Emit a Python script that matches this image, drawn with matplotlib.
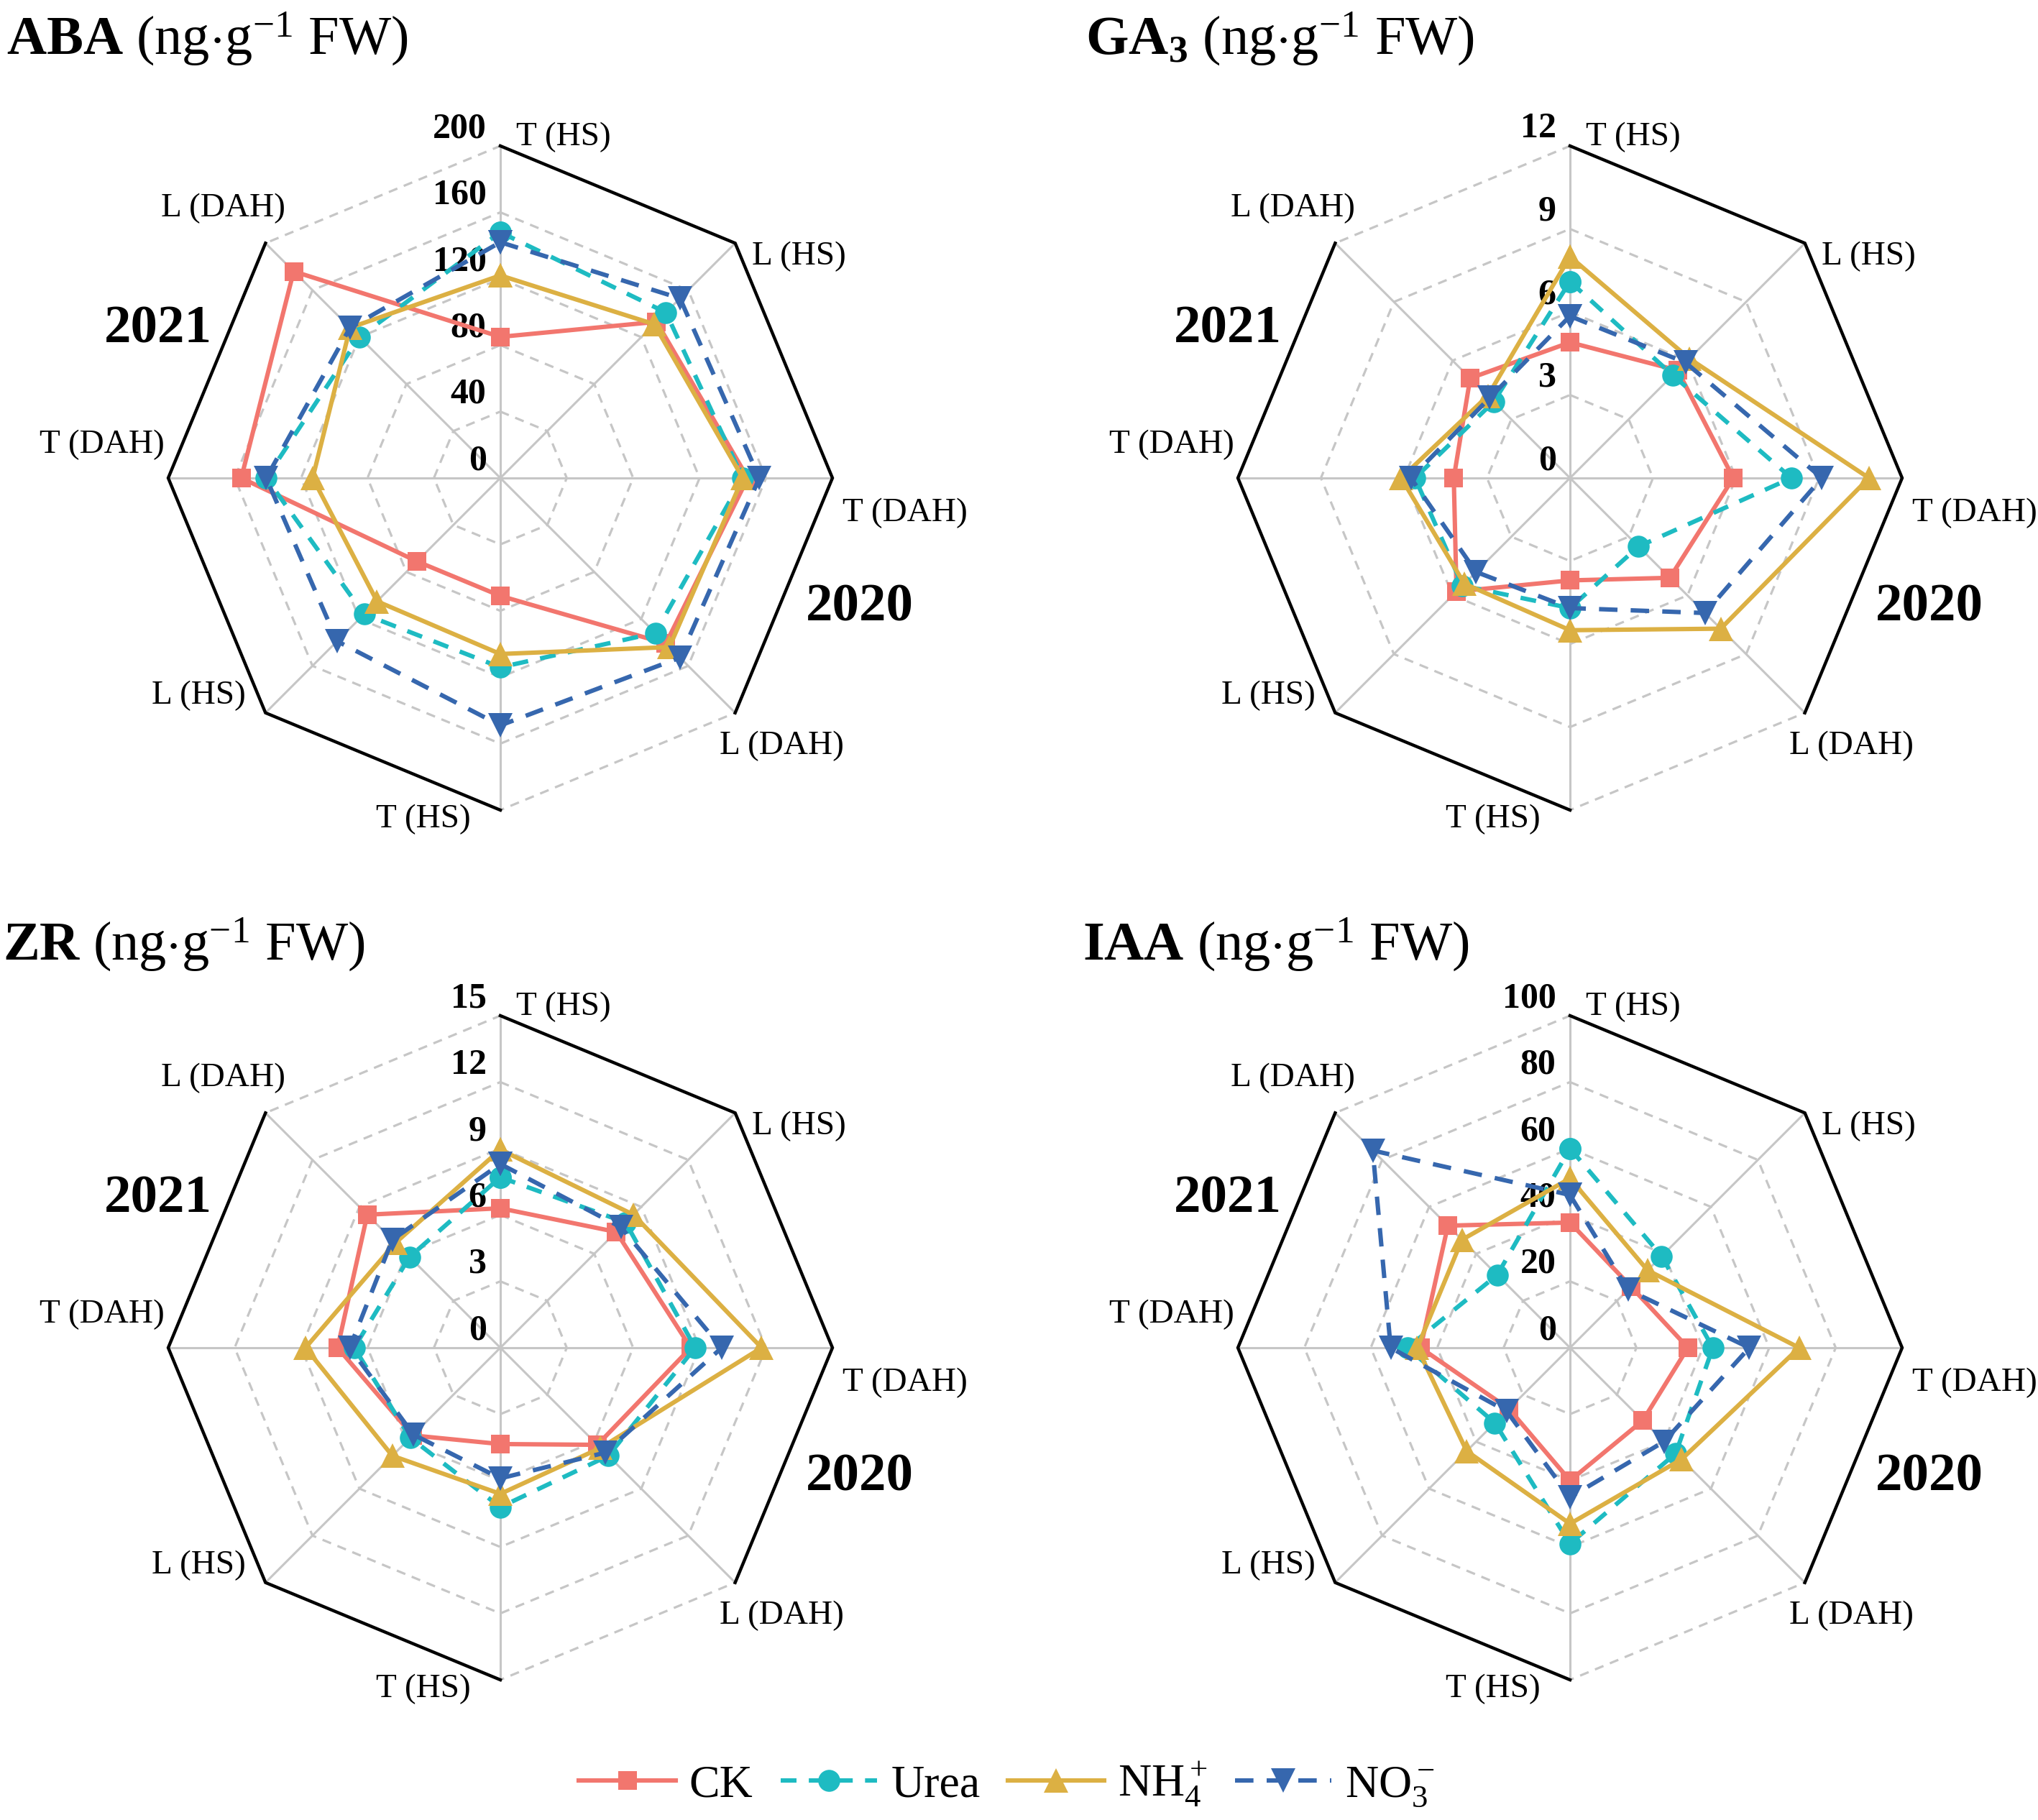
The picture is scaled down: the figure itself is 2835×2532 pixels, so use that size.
import numpy as np
import matplotlib.pyplot as plt

plt.rcParams['font.family'] = ['Liberation Serif', 'DejaVu Serif']
plt.rcParams['mathtext.fontset'] = 'custom'
plt.rcParams['mathtext.rm'] = 'Liberation Serif'
plt.rcParams['mathtext.it'] = 'Liberation Serif:italic'
plt.rcParams['mathtext.bf'] = 'Liberation Serif:bold'

# spokes clockwise from top: first four = 2020, last four = 2021
axis_labels = ['T (HS)', 'L (HS)', 'T (DAH)', 'L (DAH)',
               'T (HS)', 'L (HS)', 'T (DAH)', 'L (DAH)']
treatments = ['CK', 'Urea', 'NH$_4^+$', 'NO$_3^-$']

aba_ck = [85, 133, 149, 141, 71, 71, 156, 176]
aba_urea = [148, 141, 146, 132, 114, 116, 141, 120]
aba_nh4 = [122, 131, 146, 144, 106, 105, 113, 128]
aba_no3 = [142, 153, 156, 153, 149, 139, 141, 128]

ga3_ck = [4.9, 5.5, 5.9, 5.1, 3.7, 5.8, 4.2, 5.1]
ga3_urea = [7.1, 5.25, 8.0, 3.5, 4.7, 5.5, 5.6, 3.9]
ga3_nh4 = [8.0, 6.1, 10.8, 7.7, 5.5, 5.4, 6.1, 4.2]
ga3_no3 = [5.85, 5.9, 9.1, 6.9, 4.7, 4.8, 5.75, 4.1]

zr_ck = [6.3, 7.4, 8.6, 6.2, 4.35, 5.6, 7.35, 8.5]
zr_urea = [7.7, 8.0, 8.8, 6.9, 7.2, 5.75, 6.6, 5.8]
zr_nh4 = [8.95, 8.5, 11.8, 6.4, 6.6, 6.9, 8.8, 6.7]
zr_no3 = [8.3, 7.7, 10.0, 6.7, 5.9, 5.55, 6.8, 6.9]

iaa_ck = [37.7, 26, 35.5, 31, 40, 26, 45, 52]
iaa_urea = [60, 39, 43, 45, 59, 32, 49, 31]
iaa_nh4 = [51, 33, 69, 47.5, 53, 44, 46, 46]
iaa_no3 = [46, 24.7, 54, 40, 45, 27, 54, 84]

aba_ticks = [0, 40, 80, 120, 160, 200]
ga3_ticks = [0, 3, 6, 9, 12]
zr_ticks = [0, 3, 6, 9, 12, 15]
iaa_ticks = [0, 20, 40, 60, 80, 100]

titles = [r'$\mathbf{ABA}$ (ng$\cdot$g$^{-1}$ FW)', r'$\mathbf{GA_3}$ (ng$\cdot$g$^{-1}$ FW)',
          r'$\mathbf{ZR}$ (ng$\cdot$g$^{-1}$ FW)', r'$\mathbf{IAA}$ (ng$\cdot$g$^{-1}$ FW)']

styles = [
    ('#F2766E', 's', '-', 19),
    ('#1EBBC2', 'o', (0, (3.6, 2.8)), 22),
    ('#DCB043', '^', '-', 25),
    ('#3667AE', 'v', (0, (4.2, 3)), 25),
]

W, H = 2835, 2532
R = 462
centers = [(696, 665), (2184, 665), (696, 1875), (2184, 1875)]
title_pos = [(9, 76), (1510, 76), (4, 1336), (1506, 1336)]

# label alignment and offsets (points) from each outer vertex
label_off = [('left', 16, 9), ('left', 17, -13), ('left', 10, -35), ('center', 47, -33),
             ('right', -30, -9), ('right', -20, 17), ('right', -4, 33), ('center', -42, 35)]

theta = np.arange(8) * 2 * np.pi / 8
theta_c = np.append(theta, theta[0])


def radar(ax, series, ticks):
    rmax = ticks[-1]
    ax.set_theta_zero_location('N')
    ax.set_theta_direction(-1)
    ax.set_ylim(0, rmax)
    ax.grid(False)
    ax.spines['polar'].set_visible(False)
    ax.set_xticks([])
    ax.set_yticks([])
    ax.patch.set_visible(False)

    # spokes
    for t in theta:
        ax.plot([t, t], [0, rmax], color='#c6c6c6', lw=2.2, zorder=1)
    # dashed octagon rings
    for lev in ticks[1:]:
        ax.plot(theta_c, [lev] * 9, color='#c6c6c6', lw=2.3,
                ls=(0, (4, 3)), zorder=1, clip_on=False)
    # black outline halves
    ax.plot(theta[0:4], [rmax] * 4, color='black', lw=3.2, zorder=2,
            clip_on=False, solid_joinstyle='miter')
    ax.plot(theta[4:8], [rmax] * 4, color='black', lw=3.2, zorder=2,
            clip_on=False, solid_joinstyle='miter')

    # radial tick labels along the top spoke
    for lev in ticks:
        ax.annotate(str(lev), xy=(0, lev), xytext=(-14, 17), textcoords='offset points',
                    ha='right', va='center', fontsize=36, fontweight='bold',
                    zorder=3, annotation_clip=False)

    # spoke labels
    for t, lab, (ha, dx, dy) in zip(theta, axis_labels, label_off):
        ax.annotate(lab, xy=(t, rmax), xytext=(dx, dy), textcoords='offset points',
                    ha=ha, va='center', fontsize=34, annotation_clip=False)

    ax.text(-0.015, 0.724, '2021', transform=ax.transAxes, ha='center', va='center',
            fontsize=54, fontweight='bold')
    ax.text(1.041, 0.305, '2020', transform=ax.transAxes, ha='center', va='center',
            fontsize=54, fontweight='bold')

    lines = []
    for vals, (color, marker, ls, ms) in zip(series, styles):
        v = list(vals) + [vals[0]]
        ln, = ax.plot(theta_c, v, color=color, ls=ls, lw=4.4, marker=marker, ms=ms,
                      mew=0, zorder=5, clip_on=False)
        lines.append(ln)
    return lines


fig = plt.figure(figsize=(W / 100, H / 100), dpi=100)

panels = [
    ([aba_ck, aba_urea, aba_nh4, aba_no3], aba_ticks),
    ([ga3_ck, ga3_urea, ga3_nh4, ga3_no3], ga3_ticks),
    ([zr_ck, zr_urea, zr_nh4, zr_no3], zr_ticks),
    ([iaa_ck, iaa_urea, iaa_nh4, iaa_no3], iaa_ticks),
]

for (series, ticks), (cx, cy), title, (tx, ty) in zip(panels, centers, titles, title_pos):
    ax = fig.add_axes([(cx - R) / W, 1 - (cy + R) / H, 2 * R / W, 2 * R / H],
                      projection='polar')
    handles = radar(ax, series, ticks)
    fig.text(tx / W, 1 - ty / H, title, fontsize=55, ha='left', va='baseline')

fig.legend(handles, treatments, loc='center', bbox_to_anchor=(0.494, 1 - 2482 / H),
           ncol=4, frameon=False, fontsize=46, handlelength=2.1,
           handletextpad=0.3, columnspacing=0.6)

fig.savefig('out.png', dpi=100, facecolor='white')
